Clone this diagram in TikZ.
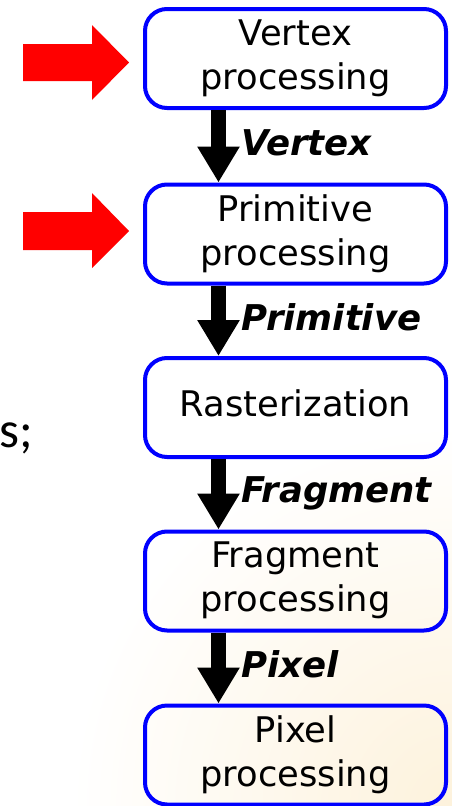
\documentclass[tikz,border=0pt]{standalone}
\usepackage{fontspec}
\newfontfamily\dejavu{DejaVu Sans}
\newfontfamily\carlito{Carlito}
\usetikzlibrary{arrows.meta}
\definecolor{boxblue}{RGB}{0,0,255}
\definecolor{markred}{RGB}{255,0,0}
\definecolor{warmtint}{RGB}{253,242,220}

\begin{document}
\begin{tikzpicture}[x=1pt,y=-1pt,
  stage/.style={draw=boxblue, line width=4pt, rounded corners=22pt,
    minimum width=301pt, minimum height=99pt, inner sep=0pt,
    align=center, text depth=8pt,
    font=\dejavu\fontsize{35.3pt}{44pt}\selectfont},
  flow/.style={line width=15pt, -{Triangle[length=36pt,width=40pt]}},
  flowlabel/.style={anchor=base west, inner sep=0pt,
    font=\dejavu\bfseries\itshape\fontsize{35.5pt}{40pt}\selectfont},
  pointer/.style={fill=markred},
  sidetext/.style={anchor=base west, inner sep=0pt,
    font=\carlito\fontsize{51pt}{60pt}\selectfont}
]
\useasboundingbox (0,0) rectangle (452,806);

% warm tint in the lower right corner
\begin{scope}
  \clip (0,0) rectangle (452,806);
  \shade[inner color=warmtint, outer color=white] (452,806) circle (380);
\end{scope}

% pipeline stages
\node[stage] (b1) at (295.5,58.5)  {Vertex\\processing};
\node[stage] (b2) at (295.5,234)   {Primitive\\processing};
\node[stage] (b3) at (295.5,407.5) {Rasterization};
\node[stage] (b4) at (295.5,581)   {Fragment\\processing};
\node[stage] (b5) at (295.5,755)   {Pixel\\processing};

% column of the flow arrows
\coordinate (ax) at (218.5,0);

\draw[flow] (b1.south -| ax) -- (b2.north -| ax);
\draw[flow] (b2.south -| ax) -- (b3.north -| ax);
\draw[flow] (b3.south -| ax) -- (b4.north -| ax);
\draw[flow] (b4.south -| ax) -- (b5.north -| ax);

% data passed between stages
\node[flowlabel] (l1) at (241,155) {Vertex};
\node[flowlabel] (l2) at (241,330) {Primitive};
\node[flowlabel] (l3) at (241,502) {Fragment};
\node[flowlabel] (l4) at (241,677) {Pixel};

% red markers
\fill[pointer] (23,44) -- (92,44) -- (92,25) -- (129,62.5) -- (92,100)
  -- (92,81) -- (23,81) -- cycle;
\fill[pointer] (23,212) -- (92,212) -- (92,193) -- (129,231) -- (92,268)
  -- (92,250) -- (23,250) -- cycle;

% text running in from the left edge
\node[sidetext] (side) at (-1,447) {s;};
\end{tikzpicture}
\end{document}
